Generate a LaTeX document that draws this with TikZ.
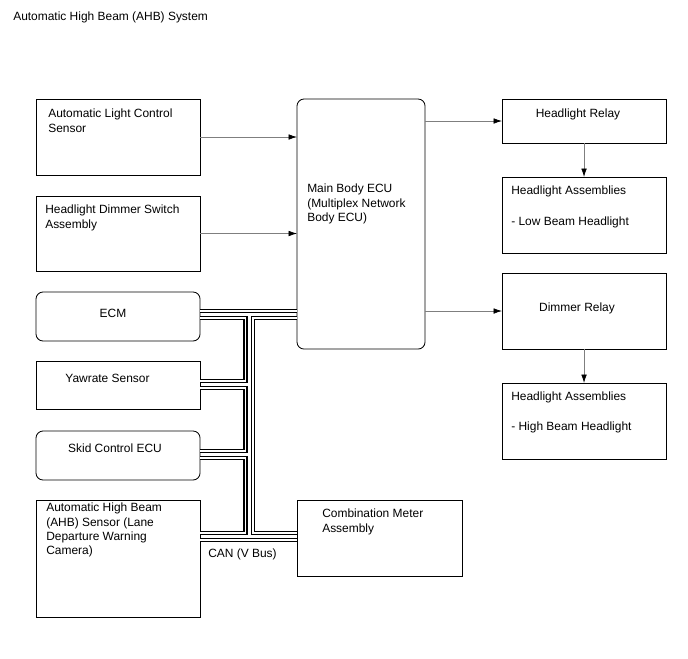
\documentclass[tikz,border=0pt]{standalone}
\usepackage{fontspec}
\setmainfont{Liberation Sans}
\usepackage{tikz}
\usetikzlibrary{arrows.meta}
\definecolor{wiregray}{HTML}{7F7F7F}

\begin{document}
\begin{tikzpicture}[
  x=0.025cm, y=-0.025cm,
  font=\fontsize{8.5pt}{10pt}\selectfont,
  box/.style={draw, line width=0.6pt, anchor=north west, inner sep=0pt, outer sep=0pt, minimum width=4.1cm},
  rbox/.style={box, rounded corners=5pt},
  txt/.style={anchor=north west, inner sep=0pt, align=left},
  ctxt/.style={anchor=north, inner sep=0pt, align=center},
  arr/.style={draw=wiregray, line width=0.5pt, -{Latex[black,length=6pt,width=4pt]}},
  can/.style={draw=black, line width=1.1pt, double=white, double distance=1pt, line join=miter}
]
\useasboundingbox (0,0) rectangle (688,658);
\node[txt] (title) at (13,12) {Automatic High Beam (AHB) System};

% left column
\node[box, minimum height=1.9cm] (alc) at (36,99) {};
\node[box, minimum height=1.875cm] (hds) at (36,196) {};
\node[rbox, minimum height=1.225cm] (ecm) at (36,292) {};
\node[box, minimum height=1.2cm] (yaw) at (36,361) {};
\node[rbox, minimum height=1.225cm] (skid) at (36,431) {};
\node[box, minimum height=2.925cm] (ahb) at (36,500) {};

\node[txt] (alct) at (48,109) {Automatic Light Control\\Sensor};
\node[txt] (hdst) at (45,205) {Headlight Dimmer Switch\\Assembly};
\node[ctxt] (ecmt) at (113,309) {ECM};
\node[ctxt] (yawt) at (107.5,374) {Yawrate Sensor};
\node[ctxt] (skidt) at (115,444) {Skid Control ECU};
\node[txt] (ahbt) at (46,503) {Automatic High Beam\\(AHB) Sensor (Lane\\Departure Warning\\Camera)};

% middle
\node[rbox, minimum width=3.2cm, minimum height=6.25cm] (main) at (297,99) {};
\node[txt] (maint) at (307,184) {Main Body ECU\\(Multiplex Network\\Body ECU)};
\node[box, minimum width=4.125cm, minimum height=1.9cm] (meter) at (297,500) {};
\node[txt] (metert) at (322,509) {Combination Meter\\Assembly};

% right column
\node[box, minimum height=1.1cm] (relay) at (502,99) {};
\node[box, minimum height=1.9cm] (lowhl) at (502,177) {};
\node[box, minimum height=1.9cm] (dimrel) at (502,273) {};
\node[box, minimum height=1.9cm] (highhl) at (502,383) {};

\node[ctxt] (relayt) at (578,109) {Headlight Relay};
\node[txt] (lowhlt) at (511,186) {Headlight Assemblies\\[12pt]- Low Beam Headlight};
\node[ctxt] (dimrelt) at (577,303) {Dimmer Relay};
\node[txt] (highhlt) at (511,392) {Headlight Assemblies\\[11pt]- High Beam Headlight};

\draw[arr] (alc.east) -- (main.west |- alc.east); \draw[arr] (hds.east) -- (main.west |- hds.east);
\draw[arr] (main.east |- relay.west) -- (relay.west); \draw[arr] (main.east |- dimrel.west) -- (dimrel.west);
\draw[arr] (relay.south) -- (lowhl.north); \draw[arr] (dimrel.south) -- (highhl.north);

% CAN bus
\coordinate (lbus) at (245.5,0);
\coordinate (rbus) at (253,0);
\draw[can] (ecm.east |- 0,311) -- (main.west |- 0,311);
\draw[can] (ecm.east |- 0,318) -| (lbus |- 0,381) -- (yaw.east |- 0,381);
\draw[can] (yaw.east |- 0,388) -| (lbus |- 0,451) -- (skid.east |- 0,451);
\draw[can] (skid.east |- 0,458) -| (lbus |- 0,533) -- (ahb.east |- 0,533);
\draw[can] (main.west |- 0,318) -| (rbus |- 0,533) -- (meter.west |- 0,533);
\draw[can] (ahb.east |- 0,540) -- (meter.west |- 0,540);
\node[txt] (cant) at (208,549) {CAN (V Bus)};
\end{tikzpicture}
\end{document}
